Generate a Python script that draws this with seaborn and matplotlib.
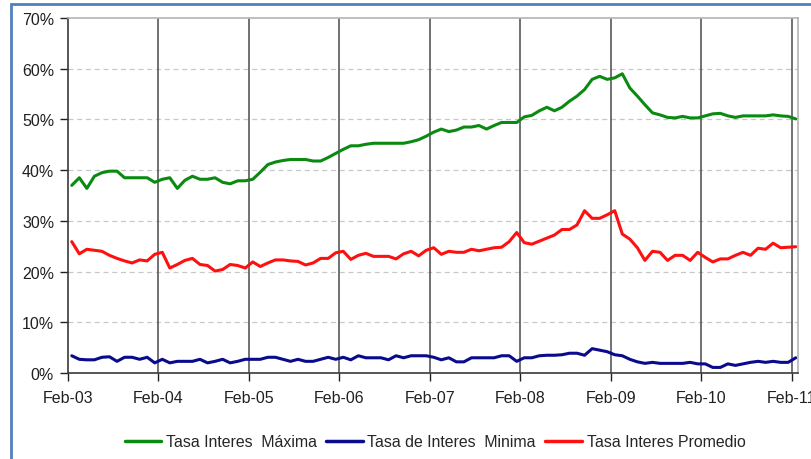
import numpy as np
import pandas as pd
import seaborn as sns
import matplotlib.pyplot as plt
from matplotlib.patches import Rectangle

# Monthly rates, Feb-03 .. Feb-11 (%)
maxima = [37.0, 38.5, 36.4, 38.8, 39.5, 39.8, 39.8, 38.5, 38.5, 38.5, 38.5, 37.6, 38.2, 38.5, 36.4, 38.0,
          38.8, 38.2, 38.2, 38.5, 37.6, 37.3, 37.9, 37.9, 38.2, 39.6, 41.1, 41.6, 41.9, 42.1, 42.1, 42.1,
          41.8, 41.8, 42.5, 43.3, 44.1,
          44.8, 44.8, 45.1, 45.3, 45.3, 45.3, 45.3, 45.3, 45.6, 46.0, 46.7, 47.5, 48.1, 47.6, 47.9, 48.5,
          48.5, 48.8, 48.1, 48.8, 49.4, 49.4, 49.4, 50.5, 50.8, 51.7, 52.4, 51.7, 52.4, 53.6, 54.6,
          55.9, 57.9, 58.5, 57.9, 58.2, 59.0, 56.2, 54.6, 52.9, 51.3, 50.9, 50.4, 50.3, 50.6, 50.3, 50.3,
          50.7, 51.1, 51.2, 50.7, 50.4, 50.7, 50.7, 50.7, 50.7, 50.9, 50.7, 50.6, 50.1]
minima = [3.4, 2.7, 2.6, 2.6, 3.1, 3.2, 2.3, 3.1, 3.1, 2.7, 3.1, 2.0, 2.7, 2.0, 2.3, 2.3, 2.3, 2.7, 2.0,
          2.3, 2.7, 2.0, 2.3, 2.7, 2.7, 2.7, 3.1, 3.1, 2.7, 2.3, 2.7, 2.3, 2.3, 2.7, 3.1, 2.7, 3.1,
          2.6, 3.4, 3.0, 3.0, 3.0, 2.6, 3.4, 3.0, 3.4, 3.4, 3.4, 3.1, 2.6, 3.0, 2.2, 2.2, 3.0, 3.0, 3.0,
          3.0, 3.4, 3.4, 2.3, 3.0, 3.0, 3.4, 3.5, 3.5, 3.6, 3.9, 3.9,
          3.5, 4.8, 4.5, 4.2, 3.6, 3.4, 2.7, 2.2, 1.9, 2.1, 1.9, 1.9, 1.9, 1.9, 2.1, 1.8, 1.8, 1.1, 1.1,
          1.8, 1.5, 1.8, 2.1, 2.3, 2.1, 2.3, 2.1, 2.1, 3.0]
promedio = [25.9, 23.5, 24.4, 24.2, 24.0, 23.2, 22.6, 22.1, 21.7, 22.3, 22.1, 23.4, 23.8, 20.7, 21.4,
            22.2, 22.6, 21.4, 21.2, 20.1, 20.4, 21.4, 21.2, 20.7, 21.9, 21.0, 21.7, 22.3, 22.3, 22.1,
            22.0, 21.3, 21.7, 22.6, 22.6, 23.7, 24.0,
            22.4, 23.2, 23.6, 23.0, 23.0, 23.0, 22.5, 23.5, 24.0, 23.1, 24.2, 24.7, 23.4, 24.0, 23.8,
            23.8, 24.4, 24.1, 24.4, 24.7, 24.8, 25.9, 27.7, 25.7, 25.4, 26.0, 26.6, 27.2, 28.3, 28.3, 29.2,
            32.0, 30.5, 30.5, 31.2, 32.0, 27.4, 26.4, 24.7, 22.2, 24.0, 23.8, 22.2, 23.2, 23.2, 22.2,
            23.8, 22.8, 21.9, 22.5, 22.5, 23.2, 23.8, 23.2, 24.6, 24.4, 25.6, 24.7, 24.8, 24.9]
year_labels = ['Feb-03', 'Feb-04', 'Feb-05', 'Feb-06', 'Feb-07', 'Feb-08', 'Feb-09', 'Feb-10', 'Feb-11']
series_names = ['Tasa Interes  Máxima', 'Tasa de Interes  Minima', 'Tasa Interes Promedio']

months = np.arange(len(maxima)) + 0.5
df = pd.concat([
    pd.DataFrame({'mes': months, 'tasa': maxima, 'serie': series_names[0]}),
    pd.DataFrame({'mes': months, 'tasa': minima, 'serie': series_names[1]}),
    pd.DataFrame({'mes': months, 'tasa': promedio, 'serie': series_names[2]}),
])

sns.set_style('white')
plt.rcParams['font.family'] = ['Liberation Sans', 'DejaVu Sans']

fig = plt.figure(figsize=(8.12, 4.6), dpi=100)
ax = fig.add_axes([68 / 812, 1 - 374 / 460, 730 / 812, 355 / 460])

palette = {series_names[0]: '#0b8a12', series_names[1]: '#0a0a8c', series_names[2]: '#ff1010'}
sns.lineplot(data=df, x='mes', y='tasa', hue='serie', palette=palette, linewidth=2.2, ax=ax, legend=False)

# grid: dashed horizontals, solid verticals at each February
for v in range(10, 70, 10):
    ax.axhline(v, color='#c8c8c8', linestyle=(0, (4, 3)), linewidth=0.9, zorder=0)
for k in range(1, len(year_labels)):
    ax.axvline(12 * k, color='#4a4a4a', linewidth=1.1, zorder=0.5)

ax.set_xlim(0, 96.8)
ax.set_ylim(0, 70)
ax.set_xticks([12 * k for k in range(len(year_labels))])
ax.set_xticklabels(year_labels)
ax.set_yticks(range(0, 80, 10))
ax.set_yticklabels([f'{v}%' for v in range(0, 80, 10)])
ax.tick_params(axis='both', labelsize=11.5, colors='#202020', length=6, width=1, direction='out',
               bottom=True, left=True)
ax.tick_params(axis='x', pad=6)
ax.tick_params(axis='y', pad=4)
ax.set_xlabel('')
ax.set_ylabel('')

for side in ['left', 'bottom']:
    ax.spines[side].set_color('#3a3a3a')
    ax.spines[side].set_linewidth(1.2)
for side in ['top', 'right']:
    ax.spines[side].set_color('#b4b4b4')
    ax.spines[side].set_linewidth(1.2)

handles = [plt.Line2D([], [], color=palette[n], linewidth=2.5) for n in series_names]
fig.legend(handles, series_names, loc='center', bbox_to_anchor=(435 / 812, 1 - 443 / 460), ncol=3,
           frameon=False, handlelength=2.3, handletextpad=0.3, columnspacing=0.6,
           prop={'size': 11.4})

# outer blue frame (top and left edges visible)
fig.add_artist(Rectangle((11 / 812, -0.05), 1.2, 1.05 - 5 / 460, transform=fig.transFigure,
                         fill=False, edgecolor='#4f81bd', linewidth=2.0))

fig.savefig('out.png', dpi=100)
